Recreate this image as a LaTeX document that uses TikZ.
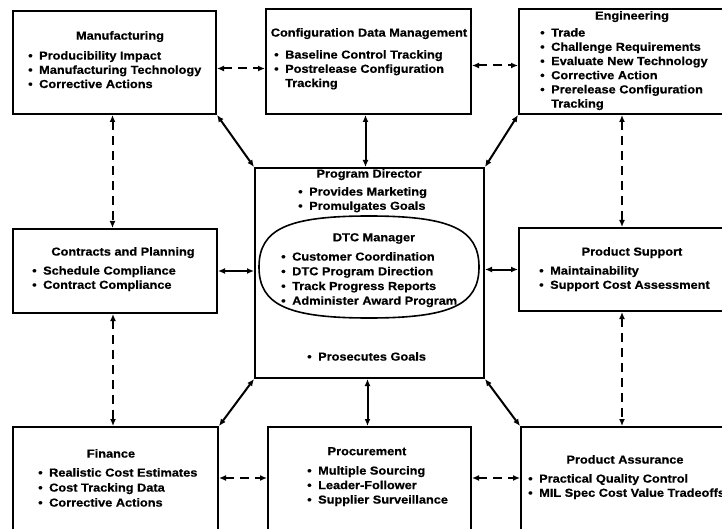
\documentclass[tikz,border=0pt]{standalone}
\usepackage{fontspec}
\setmainfont{Liberation Sans}[FakeStretch=1.1, BoldFeatures={FakeBold=0.6}]
\usetikzlibrary{arrows.meta,shapes.geometric}
\tikzset{
  box/.style={draw, line width=2pt, rectangle, inner sep=0pt, anchor=north west},
  ttl/.style={anchor=north, inner sep=0pt, font=\fontsize{11.6}{14.2}\selectfont\bfseries},
  lst/.style={anchor=north west, inner sep=0pt, align=left, font=\fontsize{11.6}{14.2}\selectfont\bfseries},
  link/.style={line width=2pt, {Latex[length=7pt,width=6pt]}-{Latex[length=7pt,width=6pt]}},
  dlink/.style={link, dash pattern=on 9pt off 6pt},
}
\newcommand\bl[1]{\makebox[11pt][l]{\textbullet}#1}
\begin{document}
\begin{tikzpicture}[x=1pt,y=-1pt]
\useasboundingbox (0,0) rectangle (722,529);
\clip (0,0) rectangle (722,529);
\fill[white] (0,0) rectangle (722,529);

% boxes
\node[box, minimum width=203pt, minimum height=103pt] (manu) at (12,10) {};
\node[box, minimum width=205pt, minimum height=105pt] (cdm) at (265,8) {};
\node[box, minimum width=230pt, minimum height=105pt] (eng) at (518,8) {};
\node[box, minimum width=204pt, minimum height=84pt] (cp) at (12,228) {};
\node[box, minimum width=229pt, minimum height=210pt] (dir) at (254,167) {};
\node[box, minimum width=230pt, minimum height=83pt] (ps) at (518,227) {};
\node[box, minimum width=205pt, minimum height=120pt] (fin) at (12,426) {};
\node[box, minimum width=203pt, minimum height=120pt] (proc) at (267,426) {};
\node[box, minimum width=230pt, minimum height=120pt] (pa) at (520,426) {};

% DTC manager oval
\draw[line width=1.6pt]
  (479,267) .. controls (479,305) and (450,318) .. (369,318)
            .. controls (288,318) and (259,305) .. (259,267)
            .. controls (259,229) and (288,216) .. (369,216)
            .. controls (450,216) and (479,229) .. (479,267) -- cycle;

% texts
\node[ttl] (manut) at (120,31) {Manufacturing};
\node[lst] (manul) at (28,51) {\bl{Producibility Impact}\\\bl{Manufacturing Technology}\\\bl{Corrective Actions}};

\node[ttl] (cdmt) at (369,28) {Configuration Data Management};
\node[lst] (cdml) at (274,50) {\bl{Baseline Control Tracking}\\\bl{Postrelease Configuration}\\\hspace*{11pt}Tracking};

\node[ttl] (engt) at (632,11) {Engineering};
\node[lst] (engl) at (540,28) {\bl{Trade}\\\bl{Challenge Requirements}\\\bl{Evaluate New Technology}\\\bl{Corrective Action}\\\bl{Prerelease Configuration}\\\hspace*{11pt}Tracking};

\node[ttl] (cpt) at (123,247) {Contracts and Planning};
\node[lst] (cpl) at (32,266) {\bl{Schedule Compliance}\\\bl{Contract Compliance}};

\node[ttl] (dirt) at (369,169) {Program Director};
\node[lst] (dirl) at (298,187) {\bl{Provides Marketing}\\\bl{Promulgates Goals}};

\node[ttl] (dtct) at (374,233) {DTC Manager};
\node[lst, font=\fontsize{11.6}{14.7}\selectfont\bfseries] (dtcl) at (281,252) {\bl{Customer Coordination}\\\bl{DTC Program Direction}\\\bl{Track Progress Reports}\\\bl{Administer Award Program}};

\node[lst] (pros) at (307,352) {\bl{Prosecutes Goals}};

\node[ttl] (pst) at (632,247) {Product Support};
\node[lst] (psl) at (539,266) {\bl{Maintainability}\\\bl{Support Cost Assessment}};

\node[ttl] (fint) at (111,449) {Finance};
\node[lst, font=\fontsize{11.6}{15}\selectfont\bfseries] (finl) at (38,468) {\bl{Realistic Cost Estimates}\\\bl{Cost Tracking Data}\\\bl{Corrective Actions}};

\node[ttl] (proct) at (367,447) {Procurement};
\node[lst, font=\fontsize{11.6}{14.5}\selectfont\bfseries] (procl) at (307,466) {\bl{Multiple Sourcing}\\\bl{Leader-Follower}\\\bl{Supplier Surveillance}};

\node[ttl] (pat) at (625,455) {Product Assurance};
\node[lst] (pal) at (528,474) {\bl{Practical Quality Control}\\\bl{MIL Spec Cost Value Tradeoffs}};

% dashed connectors
\draw[dlink] ([yshift=-6pt]manu.east) -- ([yshift=-6pt]manu.east -| cdm.west);
\draw[dlink] ([yshift=-4pt]cdm.east) -- ([yshift=-4pt]cdm.east -| eng.west);
\draw[dlink] ([xshift=-2pt]manu.south) -- ([xshift=-2pt]manu.south |- cp.north);
\draw[dlink] ([xshift=-2pt]cp.south) -- ([xshift=-2pt]cp.south |- fin.north);
\draw[dlink] ([xshift=104pt]eng.south west) -- ([xshift=104pt]eng.south west |- ps.north);
\draw[dlink] ([xshift=104pt]ps.south west) -- ([xshift=104pt]ps.south west |- pa.north);
\draw[dlink] ([yshift=-52pt]fin.north east) -- ([yshift=-52pt]fin.north east -| proc.west);
\draw[dlink] ([yshift=-52pt]proc.north east) -- ([yshift=-52pt]proc.north east -| pa.west);

% solid connectors
\draw[link] ([xshift=-3pt]cdm.south) -- ([xshift=-3pt]cdm.south |- dir.north);
\draw[link] ([xshift=-2pt]dir.south) -- ([xshift=-2pt]dir.south |- proc.north);
\draw[link] (cp.east) -- (cp.east -| dir.west);
\draw[link] (dir.east |- ps.west) -- (ps.west);
\draw[link] (manu.south east) -- (dir.north west);
\draw[link] (eng.south west) -- (dir.north east);
\draw[link] (fin.north east) -- (dir.south west);
\draw[link] (pa.north west) -- (dir.south east);
\end{tikzpicture}
\end{document}
